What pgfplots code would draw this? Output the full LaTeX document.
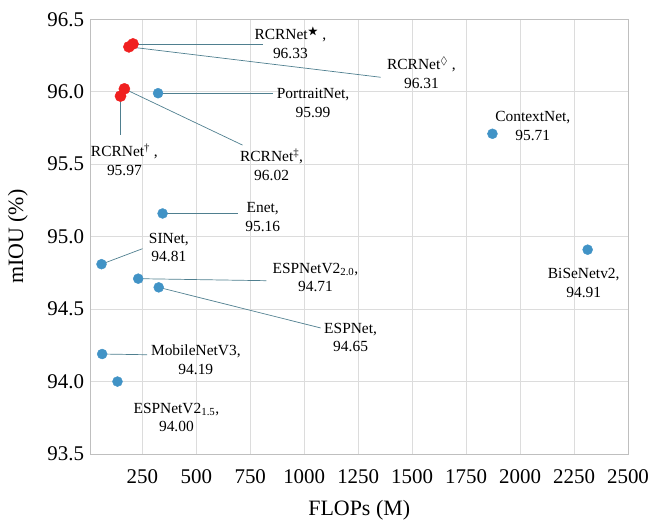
\documentclass[border=0pt]{standalone}
\usepackage{amssymb}
\usepackage{pgfplots}
\pgfplotsset{compat=1.18}
\usepackage{fontspec}
\setmainfont{Liberation Serif}

\definecolor{ptblue}{HTML}{4193C6}
\definecolor{ptred}{HTML}{F02020}
\definecolor{leader}{HTML}{4F7F8F}
\definecolor{gridgray}{HTML}{DCDCDC}
\definecolor{framegray}{HTML}{BFBFBF}

\newcommand{\lbl}{\fontsize{15.5}{19}\selectfont}

\begin{document}
\begin{tikzpicture}
\useasboundingbox (-90.5bp,-68bp) rectangle (571.5bp,454bp);
\begin{axis}[
    at={(0,0)}, anchor=south west,
    scale only axis,
    width=537.5bp, height=434.7bp,
    xmin=10, xmax=2500,
    ymin=93.5, ymax=96.5,
    xtick={250,500,...,2500},
    ytick={93.5,94,...,96.5},
    major tick length=0pt,
    grid=major,
    grid style={gridgray, line width=0.7pt},
    axis line style={framegray, line width=1pt},
    tick label style={font=\fontsize{21}{24}\selectfont},
    /pgf/number format/assume math mode=true,
    xticklabel style={yshift=-12bp, /pgf/number format/1000 sep={}},
    yticklabel style={xshift=-3bp, /pgf/number format/.cd, fixed, fixed zerofill, precision=1},
    xlabel={FLOPs (M)},
    ylabel={mIOU (\%)},
    every axis x label/.style={at={(axis description cs:0.5,-0.129)}, anchor=center,
        font=\fontsize{22}{26}\selectfont},
    every axis y label/.style={at={(axis description cs:-0.135,0.5)}, rotate=90, anchor=center,
        font=\fontsize{22}{26}\selectfont},
    clip=false,
]
% leader lines
\draw[leader, line width=0.7pt] (axis cs:207,96.33) -- (axis cs:811,96.33);
\draw[leader, line width=0.7pt] (axis cs:188,96.31) -- (axis cs:1354,96.10);
\draw[leader, line width=0.7pt] (axis cs:323,95.99) -- (axis cs:854,95.99);
\draw[leader, line width=0.7pt] (axis cs:167,96.02) -- (axis cs:714,95.632);
\draw[leader, line width=0.7pt] (axis cs:149,95.97) -- (axis cs:149,95.70);
\draw[leader, line width=0.7pt] (axis cs:344,95.16) -- (axis cs:695,95.16);
\draw[leader, line width=0.7pt] (axis cs:61,94.81) -- (axis cs:251,94.917);
\draw[leader, line width=0.7pt] (axis cs:231,94.71) -- (axis cs:825,94.696);
\draw[leader, line width=0.7pt] (axis cs:326,94.65) -- (axis cs:1076,94.37);
\draw[leader, line width=0.7pt] (axis cs:64,94.19) -- (axis cs:272,94.185);

% other models
\addplot[only marks, mark=*, mark size=5bp, color=ptblue, mark options={draw=ptblue, fill=ptblue}] coordinates {
    (323,95.99) (1872,95.71) (2313,94.91) (344,95.16) (61,94.81)
    (231,94.71) (326,94.65) (64,94.19) (135,94.00)
};
% RCRNet variants
\addplot[only marks, mark=*, mark size=5.6bp, color=ptred, mark options={draw=ptred, fill=ptred}] coordinates {
    (188,96.31) (207,96.33) (149,95.97) (167,96.02)
};

% labels
\begin{scope}[every node/.style={align=center, font=\lbl, inner sep=0pt}]
\node at (axis cs:936,96.336) {RCRNet$^{\bigstar}$ ,\\96.33};
\node at (axis cs:1543,96.133) {RCRNet$^{\lozenge}$ ,\\96.31};
\node at (axis cs:1041,95.922) {PortraitNet,\\95.99};
\node at (axis cs:167,95.53) {RCRNet\textsuperscript{†} ,\\95.97};
\node at (axis cs:849,95.494) {RCRNet\textsuperscript{‡},\\96.02};
\node at (axis cs:2059,95.764) {ContextNet,\\95.71};
\node at (axis cs:2295,94.68) {BiSeNetv2,\\94.91};
\node at (axis cs:808,95.138) {Enet,\\95.16};
\node at (axis cs:373,94.925) {SINet,\\94.81};
\node at (axis cs:1052,94.718) {ESPNetV2\textsubscript{2.0},\\94.71};
\node at (axis cs:1215,94.304) {ESPNet,\\94.65};
\node at (axis cs:498,94.149) {MobileNetV3,\\94.19};
\node at (axis cs:408,93.752) {ESPNetV2\textsubscript{1.5},\\94.00};
\end{scope}
\end{axis}
\end{tikzpicture}
\end{document}
